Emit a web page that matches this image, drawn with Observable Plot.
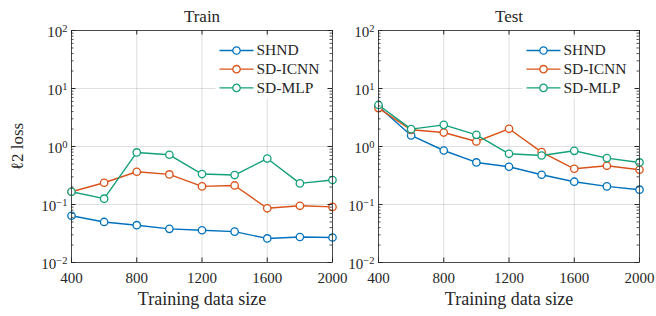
<!DOCTYPE html>
<html>
<head>
<meta charset="utf-8">
<script src="https://cdn.jsdelivr.net/npm/d3@7"></script>
<script src="https://cdn.jsdelivr.net/npm/@observablehq/plot@0.6"></script>
<style>
  html, body { margin: 0; padding: 0; background: white; }
  #fig { position: relative; width: 656px; height: 316px; overflow: hidden; }
  #fig svg { position: absolute; left: 0; top: 0; }
</style>
</head>
<body>
<div id="fig"></div>
<script>
// ---- data ----
const sizes = [400, 600, 800, 1000, 1200, 1400, 1600, 1800, 2000];
const seriesNames = ["SHND", "SD-ICNN", "SD-MLP"];
const seriesColors = ["#0072BD", "#D95319", "#13A07A"];

const trainSHND = [0.064, 0.050, 0.044, 0.038, 0.036, 0.034, 0.026, 0.0275, 0.027];
const trainICNN = [0.166, 0.237, 0.367, 0.330, 0.205, 0.213, 0.086, 0.095, 0.091];
const trainMLP  = [0.166, 0.126, 0.79, 0.72, 0.335, 0.322, 0.62, 0.231, 0.264];

const testSHND = [4.9, 1.55, 0.853, 0.531, 0.448, 0.326, 0.247, 0.205, 0.180];
const testICNN = [4.6, 1.94, 1.74, 1.22, 2.02, 0.80, 0.413, 0.465, 0.397];
const testMLP  = [5.2, 1.99, 2.36, 1.59, 0.749, 0.70, 0.843, 0.631, 0.531];

const xTicks = [400, 800, 1200, 1600, 2000];
const yTicks = [0.01, 0.1, 1, 10, 100];
const yMinorTicks = [];
for (const dec of [0.01, 0.1, 1, 10]) for (let m = 2; m <= 9; m++) yMinorTicks.push(+(m * dec).toPrecision(3));

const titles = ["Train", "Test"];
const xLabel = "Training data size";
const yLabel = "ℓ2 loss";

// ---- drawing ----
const W = 656, H = 316;
const FONT = "'Liberation Serif', 'DejaVu Serif', serif";
const AX = "#262626";

function panel({title, series, left, right, showYLabel}) {
  const top = 30, bottom = 262;
  const plotW = right - left, plotH = bottom - top;
  const marks = [];
  marks.push(Plot.gridX(xTicks, {stroke: AX, strokeOpacity: 0.15}));
  marks.push(Plot.gridY(yTicks, {stroke: AX, strokeOpacity: 0.15}));
  // legend background
  marks.push(Plot.frame({fill: "white", stroke: null, insetLeft: 144, insetRight: 2, insetTop: 7, insetBottom: 164}));
  series.forEach((vals, i) => {
    const data = sizes.map((s, j) => ({x: s, y: vals[j], name: seriesNames[i]}));
    marks.push(Plot.line(data, {x: "x", y: "y", stroke: seriesColors[i], strokeWidth: 1.4}));
    marks.push(Plot.dot(data, {x: "x", y: "y", stroke: seriesColors[i], fill: "white", r: 3.7, strokeWidth: 1.3}));
  });
  // legend
  const legendSymbol = {
    draw(ctx, size) {
      const r = Math.sqrt(size / Math.PI);
      ctx.moveTo(-17, 0); ctx.lineTo(-r, 0);
      ctx.moveTo(r, 0); ctx.lineTo(17, 0);
      ctx.moveTo(r, 0); ctx.arc(0, 0, r, 0, 2 * Math.PI);
    }
  };
  seriesNames.forEach((name, i) => {
    const dy = 20 + i * 18.7;
    marks.push(Plot.dot([name], {frameAnchor: "top-right", dx: -96, dy, symbol: legendSymbol, r: 3.7, stroke: seriesColors[i], fill: "white", strokeWidth: 1.3}));
    marks.push(Plot.text([name], {text: d => d, frameAnchor: "top-right", dx: -76, dy: dy, textAnchor: "start", lineAnchor: "middle", fontSize: 15.5, fill: AX}));
  });
  // frame
  marks.push(Plot.frame({stroke: AX, strokeWidth: 0.8}));
  // inward ticks
  const major = 4.5, minor = 2.5;
  marks.push(Plot.tickY(yTicks, {y: d => d, insetRight: plotW - major, stroke: AX}));
  marks.push(Plot.tickY(yTicks, {y: d => d, insetLeft: plotW - major, stroke: AX}));
  marks.push(Plot.tickY(yMinorTicks, {y: d => d, insetRight: plotW - minor, stroke: AX, strokeWidth: 0.8}));
  marks.push(Plot.tickY(yMinorTicks, {y: d => d, insetLeft: plotW - minor, stroke: AX, strokeWidth: 0.8}));
  marks.push(Plot.tickX(xTicks, {x: d => d, insetTop: plotH - major, stroke: AX}));
  marks.push(Plot.tickX(xTicks, {x: d => d, insetBottom: plotH - major, stroke: AX}));
  // axes labels
  marks.push(Plot.axisX({ticks: xTicks, tickSize: 0, tickPadding: 10, tickFormat: d => String(d), label: null, fontSize: 15, fill: AX}));
  marks.push(Plot.axisY({ticks: yTicks, tickSize: 0, tickPadding: 4, tickFormat: d => "10^" + Math.round(Math.log10(d)), label: null, fontSize: 15, fill: AX, dy: 1.5}));
  marks.push(Plot.text([xLabel], {text: d => d, frameAnchor: "bottom", dy: 37, lineAnchor: "middle", fontSize: 18, fill: AX}));
  marks.push(Plot.text([title], {text: d => d, frameAnchor: "top", dy: -14, lineAnchor: "middle", fontSize: 17, fill: AX}));
  if (showYLabel) {
    marks.push(Plot.text([yLabel], {text: d => d, frameAnchor: "left", dx: -54, rotate: -90, textAnchor: "middle", lineAnchor: "middle", fontSize: 17, fill: AX, ariaLabel: "ylabel"}));
  }
  const svg = Plot.plot({
    width: W, height: H,
    marginLeft: left, marginRight: W - right, marginTop: top, marginBottom: H - bottom,
    x: {domain: [400, 2000]},
    y: {type: "log", domain: [0.01, 100]},
    style: {fontFamily: FONT, fontSize: "15px", background: "transparent", color: AX, overflow: "visible"},
    marks
  });
  // superscripts on y tick labels
  d3.select(svg).selectAll('g[aria-label="y-axis tick label"] text').each(function() {
    const t = d3.select(this);
    const [b, e] = t.text().split("^");
    t.text(null);
    t.append("tspan").text(b);
    t.append("tspan").attr("dy", "-0.5em").attr("font-size", "10.5px").text(String(e).replace("-", "\u2212"));
  });
  // subscript in y label
  d3.select(svg).selectAll('g[aria-label="ylabel"] text').each(function() {
    const t = d3.select(this);
    t.text(null);
    t.append("tspan").attr("font-style", "italic").text("ℓ");
    t.append("tspan").attr("dy", "0.3em").attr("font-size", "12px").text("2");
    t.append("tspan").attr("dy", "-0.3em").text(" loss");
  });
  return svg;
}

const fig = document.getElementById("fig");
fig.appendChild(panel({title: titles[0], series: [trainSHND, trainICNN, trainMLP], left: 71, right: 332, showYLabel: true}));
fig.appendChild(panel({title: titles[1], series: [testSHND, testICNN, testMLP], left: 378, right: 639, showYLabel: false}));
</script>
</body>
</html>
